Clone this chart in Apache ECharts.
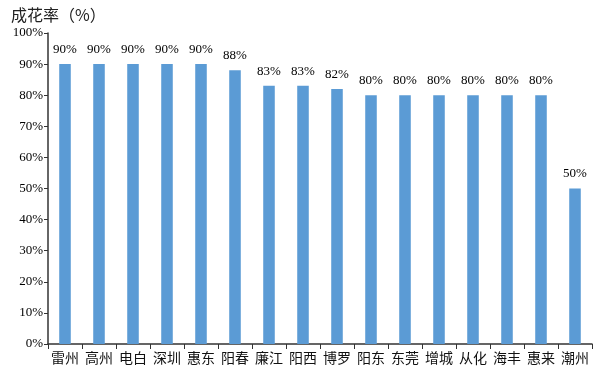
<!DOCTYPE html>
<html>
<head>
<meta charset="utf-8">
<script src="https://cdn.jsdelivr.net/npm/echarts@6/dist/echarts.min.js"></script>
<style>
  html, body { margin: 0; padding: 0; background: #fff; }
  #chart { width: 600px; height: 377px; }
</style>
</head>
<body>
<div id="chart"></div>
<script>
// 城市
var cities = ['雷州', '高州', '电白', '深圳', '惠东', '阳春', '廉江', '阳西', '博罗', '阳东', '东莞', '增城', '从化', '海丰', '惠来', '潮州'];
// 成花率 (%)
var rates = [90, 90, 90, 90, 90, 88, 83, 83, 82, 80, 80, 80, 80, 80, 80, 50];

var serif = '"Liberation Serif", "Noto Sans CJK SC", serif';
var cjk = '"Noto Sans CJK SC", serif';
var myChart = echarts.init(document.getElementById('chart'));
var option = {
  animation: false,
  title: {
    text: '成花率（%）',
    left: 6,
    top: 2,
    textStyle: { fontSize: 16, fontWeight: 'normal', color: '#222', fontFamily: cjk }
  },
  grid: { left: 48, right: 8, top: 33, bottom: 33, containLabel: false },
  xAxis: {
    type: 'category',
    data: cities,
    axisLine: { lineStyle: { color: '#333', width: 1.5 } },
    axisTick: { show: true, length: 5, lineStyle: { color: '#333' } },
    axisLabel: { color: '#111', fontSize: 14, fontFamily: cjk, margin: 7, interval: 0 }
  },
  yAxis: {
    type: 'value',
    min: 0,
    max: 100,
    interval: 10,
    axisLine: { show: true, lineStyle: { color: '#333', width: 1.5 } },
    axisTick: { show: true, length: 4, lineStyle: { color: '#333' } },
    splitLine: { show: false },
    axisLabel: { color: '#000', fontSize: 13, fontFamily: serif, margin: 5, formatter: '{value}%' }
  },
  series: [
    {
      type: 'bar',
      data: rates,
      barWidth: '34%',
      itemStyle: { color: '#5B9BD5' },
      label: {
        show: true,
        position: 'top',
        distance: 8,
        color: '#000',
        fontSize: 13,
        fontFamily: serif,
        formatter: '{c}%'
      }
    }
  ]
};
myChart.setOption(option);
</script>
</body>
</html>
